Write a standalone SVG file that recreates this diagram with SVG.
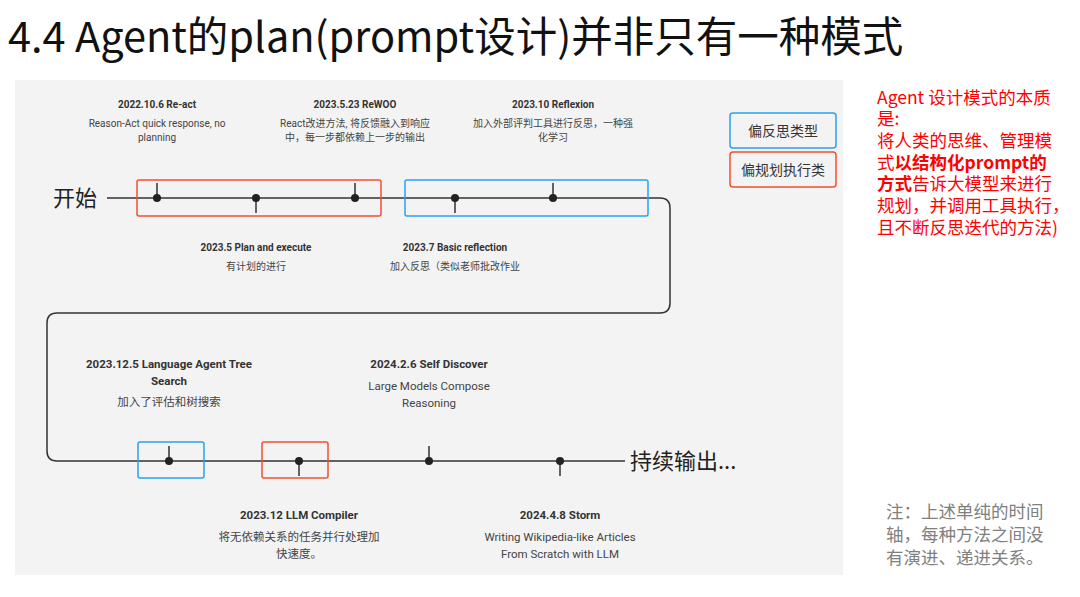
<svg xmlns="http://www.w3.org/2000/svg" width="1080" height="597" viewBox="0 0 1080 597">
<style>
text{font-family:Roboto,"Noto Sans CJK SC",sans-serif;fill:#333}
.h{font-size:10px;font-weight:bold;text-anchor:middle}
.d{font-size:10px;text-anchor:middle;fill:#444}
.h2{font-size:11.5px;font-weight:bold;text-anchor:middle}
.d2{font-size:11.5px;text-anchor:middle;fill:#444}
.line{stroke:#333;stroke-width:1.5;fill:none}
.dot{fill:#222}
.rb{fill:none;stroke:#f25030;stroke-width:1.5}
.bb{fill:none;stroke:#29a3f0;stroke-width:1.5}
.big{font-family:"Noto Sans CJK SC",sans-serif;font-size:22px;fill:#222}
.r{font-family:"Noto Sans CJK SC",sans-serif;font-size:17.5px;fill:#f00}
.n{font-family:"Noto Sans CJK SC",sans-serif;font-size:17.5px;fill:#808080}
</style>
<rect width="1080" height="597" fill="#fff"/>
<text x="8" y="52" style="font-family:'Noto Sans CJK SC',sans-serif;font-size:41.5px;fill:#111">4.4 Agent的plan(prompt设计)并非只有一种模式</text>
<rect x="15" y="80" width="828" height="495" fill="#f3f3f3"/>
<g id="connectors">
<path class="line" d="M107,198 H660 Q670,198 670,208 V303 Q670,313 660,313 H57 Q47,313 47,323 V451 Q47,461 57,461 H625"/>
<path class="line" d="M157,183V198 M256,198V213 M355,183V198 M455,198V213 M553,183V198 M169,446V461 M299,461V476 M429,446V461 M560,461V476"/>
</g>
<g class="dot">
<circle cx="157" cy="198" r="4"/><circle cx="256" cy="198" r="4"/><circle cx="355" cy="198" r="4"/><circle cx="455" cy="198" r="4"/><circle cx="553" cy="198" r="4"/>
<circle cx="169" cy="461" r="4"/><circle cx="299" cy="461" r="4"/><circle cx="429" cy="461" r="4"/><circle cx="560" cy="461" r="4"/>
</g>
<rect class="rb" x="137" y="180" width="244" height="36" rx="2"/>
<rect class="bb" x="405" y="180" width="243" height="36" rx="2"/>
<rect class="bb" x="138" y="442" width="66" height="36" rx="2"/>
<rect class="rb" x="262" y="442" width="66" height="36" rx="2"/>
<text class="big" x="53" y="206">开始</text>
<text class="big" x="630" y="469">持续输出...</text>
<g id="n1"><text class="h" x="157" y="108">2022.10.6 Re-act</text><text class="d" x="157" y="127">Reason-Act quick response, no</text><text class="d" x="157" y="141">planning</text></g>
<g id="n2"><text class="h" x="355" y="108">2023.5.23 ReWOO</text><text class="d" x="355" y="127">React改进方法, 将反馈融入到响应</text><text class="d" x="355" y="141">中，每一步都依赖上一步的输出</text></g>
<g id="n3"><text class="h" x="553" y="108">2023.10 Reflexion</text><text class="d" x="553" y="127">加入外部评判工具进行反思，一种强</text><text class="d" x="553" y="141">化学习</text></g>
<g id="n4"><text class="h" x="256" y="251">2023.5 Plan and execute</text><text class="d" x="256" y="270">有计划的进行</text></g>
<g id="n5"><text class="h" x="455" y="251">2023.7 Basic reflection</text><text class="d" x="455" y="270">加入反思（类似老师批改作业</text></g>
<g id="n6"><text class="h2" x="169" y="368">2023.12.5 Language Agent Tree</text><text class="h2" x="169" y="385">Search</text><text class="d2" x="169" y="406">加入了评估和树搜索</text></g>
<g id="n7"><text class="h2" x="429" y="368">2024.2.6 Self Discover</text><text class="d2" x="429" y="390">Large Models Compose</text><text class="d2" x="429" y="407">Reasoning</text></g>
<g id="n8"><text class="h2" x="299" y="519">2023.12 LLM Compiler</text><text class="d2" x="299" y="541">将无依赖关系的任务并行处理加</text><text class="d2" x="299" y="558">快速度。</text></g>
<g id="n9"><text class="h2" x="560" y="519">2024.4.8 Storm</text><text class="d2" x="560" y="541">Writing Wikipedia-like Articles</text><text class="d2" x="560" y="558">From Scratch with LLM</text></g>
<g id="legend1"><rect class="bb" x="730" y="113" width="106" height="35" rx="3"/><text x="783" y="136" text-anchor="middle" style="font-family:'Noto Sans CJK SC',sans-serif;font-size:14px">偏反思类型</text></g>
<g id="legend2"><rect class="rb" x="730" y="152" width="106" height="35" rx="3"/><text x="783" y="175" text-anchor="middle" style="font-family:'Noto Sans CJK SC',sans-serif;font-size:14px">偏规划执行类</text></g>
<g id="note1">
<text class="r" x="877" y="104">Agent 设计模式的本质</text>
<text class="r" x="877" y="125">是:</text>
<text class="r" x="877" y="147">将人类的思维、管理模</text>
<text class="r" x="877" y="169">式<tspan font-weight="bold">以结构化prompt的</tspan></text>
<text class="r" x="877" y="190"><tspan font-weight="bold">方式</tspan>告诉大模型来进行</text>
<text class="r" x="877" y="212">规划，并调用工具执行，</text>
<text class="r" x="877" y="234">且不断反思迭代的方法)</text>
</g>
<g id="note2">
<text class="n" x="886" y="518">注：上述单纯的时间</text>
<text class="n" x="886" y="541">轴，每种方法之间没</text>
<text class="n" x="886" y="564">有演进、递进关系。</text>
</g>
</svg>
